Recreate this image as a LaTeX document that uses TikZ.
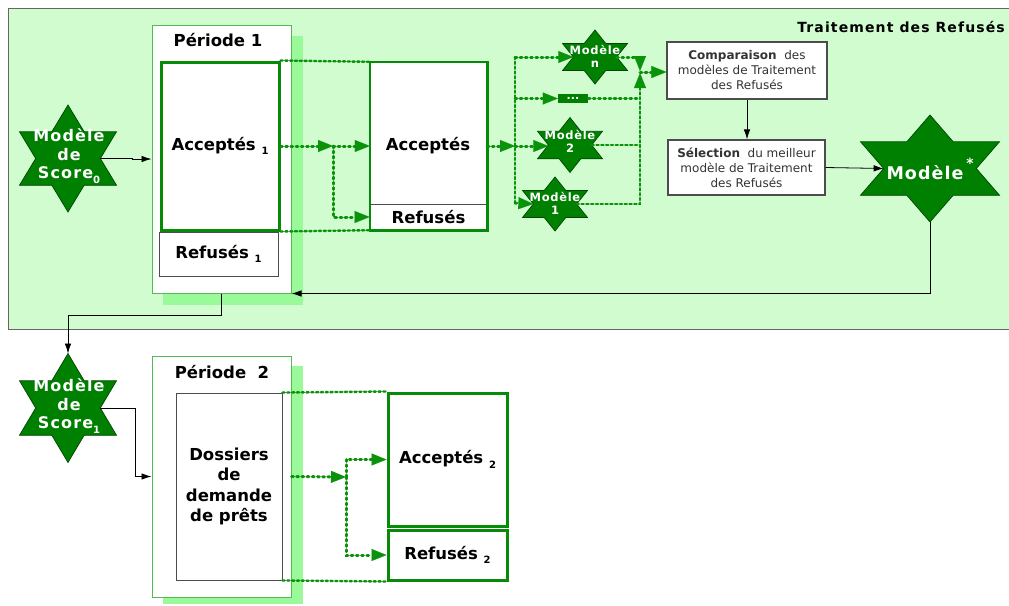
\documentclass[tikz,border=0pt]{standalone}
\usepackage{fontspec}
\setmainfont{DejaVu Sans}
\usetikzlibrary{arrows.meta,calc}
\definecolor{bgg}{HTML}{D0FCD0}
\definecolor{shg}{HTML}{9AFA9A}
\definecolor{dkg}{HTML}{078A07}
\definecolor{stg}{HTML}{008000}
\definecolor{pbord}{HTML}{55B855}
\definecolor{dotg}{HTML}{0A920A}
\definecolor{txtg}{HTML}{333333}
\newcommand{\hexstar}[4]{%
 \begin{scope}[shift={(#2)}]
 \filldraw[fill=stg, draw=black!45!stg, line width=0.7pt] (0,-#4) -- (#3/3,-#4/2) -- (#3,-#4/2) -- (2*#3/3,0) -- (#3,#4/2) -- (#3/3,#4/2) -- (0,#4) -- (-#3/3,#4/2) -- (-#3,#4/2) -- (-2*#3/3,0) -- (-#3,-#4/2) -- (-#3/3,-#4/2) -- cycle;
 \coordinate (#1) at (0,0);
 \coordinate (#1-n) at (0,-#4);
 \coordinate (#1-s) at (0,#4);
 \coordinate (#1-e) at (2*#3/3,0);
 \coordinate (#1-w) at (-2*#3/3,0);
 \end{scope}}
\newcommand{\lowidx}[1]{\raisebox{-0.5ex}{\fontsize{10}{10}\selectfont #1}}
\tikzset{
 perbox/.style={draw=pbord, line width=1pt, fill=white, rectangle, inner sep=0pt},
 grbox/.style={draw=dkg, line width=3pt, fill=white, rectangle, inner sep=0pt},
 gybox/.style={draw=black!70, line width=0.9pt, fill=white, rectangle, inner sep=0pt},
 txtbox/.style={draw=black!70, line width=1.2pt, fill=white, rectangle, inner sep=0pt, align=center, text=txtg, font=\fontsize{12}{15}\selectfont},
 big/.style={font=\fontsize{16.5}{20.5}\selectfont\bfseries, align=center, inner sep=0pt},
 startxt/.style={text=white, font=\fontsize{16}{18.5}\selectfont\bfseries\addfontfeature{LetterSpace=7}, align=center, inner sep=0pt},
 smstartxt/.style={text=white, font=\fontsize{11.5}{13}\selectfont\bfseries\addfontfeature{LetterSpace=6}, align=center, inner sep=0pt},
 flow/.style={dotg, line width=3pt, line cap=round, dash pattern=on 1.8pt off 3.4pt},
 flowa/.style={flow, -{Triangle[length=15pt,width=12pt,line width=0.1pt]}},
 chain/.style={dotg, line width=2.4pt, line cap=round, dash pattern=on 2.2pt off 2.6pt},
 chaina/.style={chain, -{Triangle[length=15pt,width=12pt,line width=0.1pt]}},
 conn/.style={black, line width=0.8pt, -{Latex[length=10pt,width=6.5pt]}},
 conl/.style={black, line width=0.8pt}
}
\begin{document}
\begin{tikzpicture}[x=1pt,y=-1pt]
\useasboundingbox (0,0) rectangle (1009,605);
\clip (0,0) rectangle (1009,605);
\fill[white] (0,0) rectangle (1009,605);
% background panel
\filldraw[fill=bgg, draw=black!60, line width=1pt] (8,8) rectangle (1020,329);
\node[font=\fontsize{14}{16}\selectfont\bfseries\addfontfeature{LetterSpace=8}, anchor=east, inner sep=0pt] (ttr) at (1005,27) {Traitement des Refusés};
% shadows
\fill[shg] (163,36) rectangle (303,305);
\fill[shg] (163,366) rectangle (303,604);
% Periode 1
\node[perbox, minimum width=139pt, minimum height=268pt] (p1) at (221.5,159) {};
\node[big] (p1t) at (218,40) {Période 1};
\node[grbox, minimum width=118pt, minimum height=168pt, big] (a1) at (220,146) {Acceptés \lowidx{1}};
\node[gybox, minimum width=119pt, minimum height=44pt, big] (r1) at (218.5,254) {Refusés \lowidx{1}};
% middle Acceptes
\node[fill=white, minimum width=117pt, minimum height=168pt, inner sep=0pt] (acc) at (428.5,146) {};
\node[gybox, minimum width=117pt, minimum height=26pt, big] (ref) at (428.5,217) {Refusés};
\draw[dkg, line width=2.6pt] (acc.north west) rectangle (acc.south east);
\node[big] (acct) at (428,146) {Acceptés};
% stars
\hexstar{s0}{68,158.5}{48.5}{53.5}
\node[startxt] (s0t) at (69,156) {Modèle\\de\\Score\lowidx{0}};
\hexstar{s1}{68,408}{48.5}{54.5}
\node[startxt] (s1t) at (69,406) {Modèle\\de\\Score\lowidx{1}};
\hexstar{mn}{595,57}{32.5}{27}
\node[smstartxt] (mnt) at (595,56) {Modèle\\n};
\hexstar{m2}{570,145}{32.5}{27.5}
\node[smstartxt] (m2t) at (570,141) {Modèle\\2};
\hexstar{m1}{555,204}{32.5}{27}
\node[smstartxt] (m1t) at (555,203) {Modèle\\1};
\hexstar{ms}{930,168.5}{69.5}{53.5}
\node[text=white, font=\fontsize{17.5}{20}\selectfont\bfseries\addfontfeature{LetterSpace=6}, inner sep=0pt] (mst) at (925,169) {Modèle\rlap{\,\raisebox{1.1ex}{\fontsize{14}{14}\selectfont *}}};
\node[fill=stg, minimum width=30pt, minimum height=9pt, inner sep=0pt, text height=2pt, text depth=0pt, text=white, font=\fontsize{11}{11}\selectfont\bfseries] (dots) at (573,98.5) {...};
% text boxes
\node[txtbox, minimum width=160pt, minimum height=57pt] (comp) at (747,70.5) {\textbf{Comparaison}\ \ des\\modèles de Traitement\\des Refusés};
\node[txtbox, minimum width=157pt, minimum height=55pt] (sel) at (746.5,167.5) {\textbf{Sélection}\ \ du meilleur\\modèle de Traitement\\des Refusés};
% Periode 2
\node[perbox, minimum width=139pt, minimum height=241pt] (p2) at (221.5,476.5) {};
\node[big] (p2t) at (222,372) {Période\ \ 2};
\node[gybox, minimum width=106pt, minimum height=187pt, big] (dos) at (229,486.5) {Dossiers\\de\\demande\\de prêts};
\node[grbox, minimum width=119pt, minimum height=133pt, big] (a2) at (447.5,459.5) {Acceptés \lowidx{2}};
\node[grbox, minimum width=119pt, minimum height=50pt, big] (r2) at (447.5,555) {Refusés \lowidx{2}};
% green dotted flows, top panel
\draw[chain] (a1.north east) -- (acc.north west);
\draw[chain] (a1.south east) -- (acc.south west);
\coordinate (j1) at (333,146);
\draw[flowa] (a1.east) -- (j1);
\draw[flowa] (j1) -- (acc.west);
\draw[flowa] (j1) |- (ref.west);
\coordinate (j2) at (515,146);
\coordinate (vt) at (515,57);
\coordinate (vb) at (515,203);
\draw[flowa] (acc.east) -- (j2);
\draw[chain] (vt) -- (vb);
\draw[flowa] (vt) -- (mn-w);
\draw[flowa] (vt |- dots.west) -- (dots.west);
\draw[flowa] (j2) -- (j2 -| m2-w);
\draw[flowa] (vb) -- (m1-w);
\coordinate (kt) at (640,71);
\coordinate (kb) at (640,73);
\coordinate (k) at (640,72);
\draw[flowa] (mn-e) -| (kt);
\draw[chaina] (m1-e) -| (kb);
\draw[chain] (m2-e) -- (m2-e -| kb);
\draw[flow] (dots.east) -- (dots.east -| kb);
\draw[flowa] (k) -- (k -| comp.west);
% green dotted flows, bottom
\draw[chain] (dos.north east) -- (a2.north west);
\draw[chain] (dos.south east) -- (r2.south west);
\coordinate (j3) at (346,477);
\draw[flowa] (p2.east) -- (j3);
\draw[flowa] (j3) |- (a2.west);
\draw[flowa] (j3) |- (r2.west);
% black connectors
\draw[conn] (s0-e) -- ++(32,0) |- (p1.west);
\draw[conn] (comp.south) -- (comp.south |- sel.north);
\draw[conn] (sel.east) -- (ms-w);
\draw[conn] (ms-s) |- (p1.south east);
\draw[conn] (p1.south) -- ++(0,22) -| (s1-n);
\draw[conn] (s1-e) -- ++(35,0) |- (p2.west);
\end{tikzpicture}
\end{document}
